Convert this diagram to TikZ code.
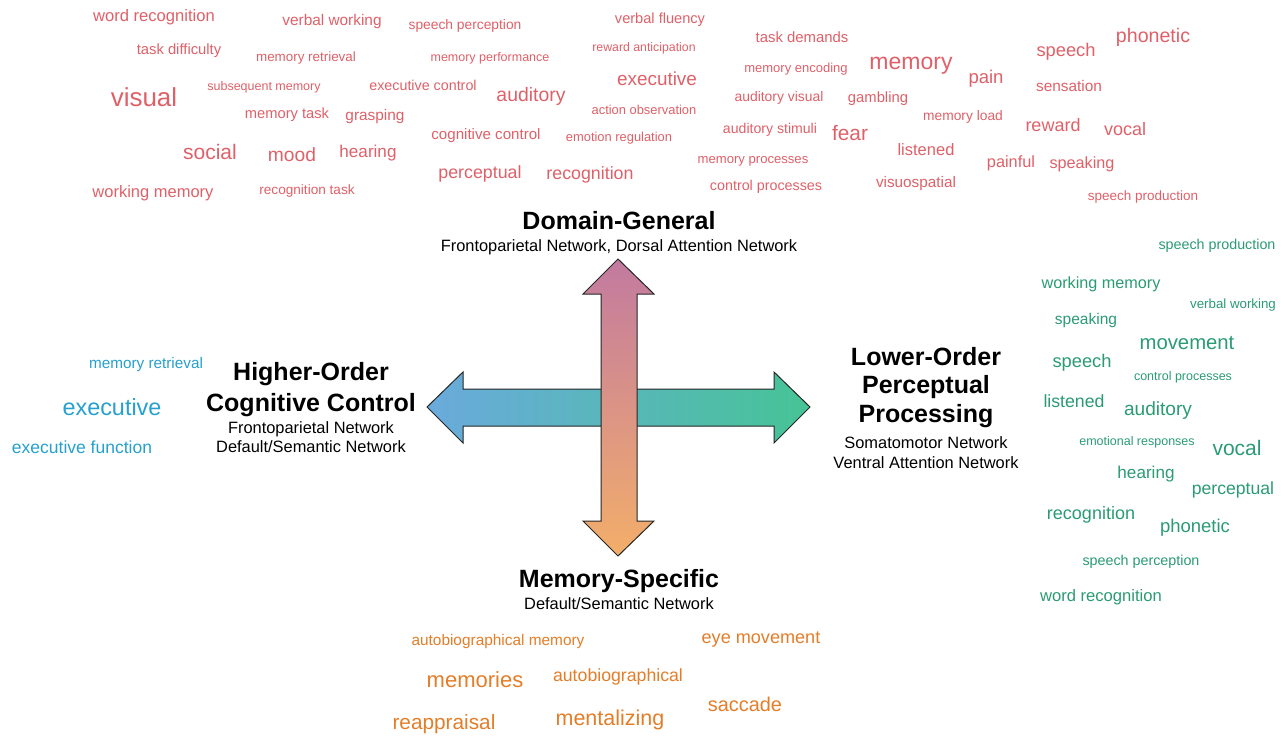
\documentclass[tikz,border=0pt]{standalone}
\usepackage{fontspec}
\setmainfont{Liberation Sans}

\definecolor{generalred}{RGB}{223,96,104}
\definecolor{perceptgreen}{RGB}{42,155,115}
\definecolor{controlblue}{RGB}{38,160,205}
\definecolor{memorange}{RGB}{228,125,40}
\definecolor{arrowblue}{RGB}{106,170,220}
\definecolor{arrowgreen}{RGB}{70,196,150}
\definecolor{arrowmauve}{RGB}{194,122,160}
\definecolor{arroworange}{RGB}{243,174,106}

\begin{document}
\begin{tikzpicture}[x=1pt,y=-1pt,
   word/.style={anchor=base,inner sep=0pt,yshift={-0.32*#1pt},
                font=\fontsize{#1}{#1}\selectfont},
   general/.style={word=#1,text=generalred},
   percept/.style={word=#1,text=perceptgreen},
   control/.style={word=#1,text=controlblue},
   memspec/.style={word=#1,text=memorange},
   heading/.style={word=25,font=\bfseries\fontsize{25}{25}\selectfont},
   network/.style={word=16.4},
   bigarrow/.style={line width=1pt,draw=black!85}]
   \useasboundingbox (0,0) rectangle (1285,736);

   % the two axes
   \shadedraw[bigarrow,left color=arrowblue,right color=arrowgreen]
      (427,407) -- (463,372) -- (463,389) -- (774,389) -- (774,372) -- (810,407)
      -- (774,443) -- (774,426) -- (463,426) -- (463,443) -- cycle;
   \shadedraw[bigarrow,top color=arrowmauve,bottom color=arroworange]
      (618,259) -- (654,294) -- (637,294) -- (637,521) -- (654,521) -- (618,556)
      -- (583,521) -- (601,521) -- (601,294) -- (583,294) -- cycle;

   % axis labels
   \node [heading] (dg) at (619,221.7) {Domain-General};
   \node [network] (dgnet) at (619,246.7) {Frontoparietal Network, Dorsal Attention Network};

   \node [heading] (hoc1) at (311,372) {Higher-Order};
   \node [heading] (hoc2) at (311,403.3) {Cognitive Control};
   \node [network] (hocnet1) at (311,428) {Frontoparietal Network};
   \node [network] (hocnet2) at (311,447) {Default/Semantic Network};

   \node [heading] (lop1) at (926,357) {Lower-Order};
   \node [heading] (lop2) at (926,385.5) {Perceptual};
   \node [heading] (lop3) at (926,414) {Processing};
   \node [network] (lopnet1) at (926,443) {Somatomotor Network};
   \node [network] (lopnet2) at (926,463) {Ventral Attention Network};

   \node [heading] (ms) at (619,579) {Memory-Specific};
   \node [network] (msnet) at (619,604) {Default/Semantic Network};

   % domain-general terms
   \node [general=16.6] (g1) at (154,16) {word recognition};
   \node [general=15.4] (g2) at (332,21) {verbal working};
   \node [general=13.8] (g3) at (465,25) {speech perception};
   \node [general=14.6] (g4) at (660,19) {verbal fluency};
   \node [general=14.8] (g5) at (179,50) {task difficulty};
   \node [general=13.4] (g6) at (306,57) {memory retrieval};
   \node [general=12.5] (g7) at (490,57) {memory performance};
   \node [general=12.3] (g8) at (644,48) {reward anticipation};
   \node [general=14.9] (g9) at (802,38) {task demands};
   \node [general=26] (g10) at (144,98) {visual};
   \node [general=12.5] (g11) at (264,86) {subsequent memory};
   \node [general=14.3] (g12) at (423,86) {executive control};
   \node [general=19.4] (g13) at (531,95) {auditory};
   \node [general=18.9] (g14) at (657,79) {executive};
   \node [general=13] (g15) at (796,68) {memory encoding};
   \node [general=23] (g16) at (911,62) {memory};
   \node [general=18.5] (g17) at (986,78) {pain};
   \node [general=18.3] (g18) at (1066,51) {speech};
   \node [general=19.6] (g19) at (1153,36) {phonetic};
   \node [general=15.4] (g20) at (1069,87) {sensation};
   \node [general=14.7] (g21) at (287,114) {memory task};
   \node [general=15.4] (g22) at (375,116) {grasping};
   \node [general=12.9] (g23) at (644,110) {action observation};
   \node [general=13.9] (g24) at (779,97) {auditory visual};
   \node [general=14.8] (g25) at (878,98) {gambling};
   \node [general=13.8] (g26) at (963,116) {memory load};
   \node [general=18] (g27) at (1053,126) {reward};
   \node [general=18] (g28) at (1125,130) {vocal};
   \node [general=15.1] (g29) at (486,135) {cognitive control};
   \node [general=12.9] (g30) at (619,137) {emotion regulation};
   \node [general=14.1] (g31) at (770,129) {auditory stimuli};
   \node [general=20.9] (g32) at (850,134) {fear};
   \node [general=21] (g33) at (210,153) {social};
   \node [general=19.2] (g34) at (292,155) {mood};
   \node [general=17.1] (g35) at (368,152) {hearing};
   \node [general=13.1] (g36) at (753,159) {memory processes};
   \node [general=16.5] (g37) at (926,150) {listened};
   \node [general=16.3] (g38) at (1011,162) {painful};
   \node [general=16.2] (g39) at (1082,163) {speaking};
   \node [general=17.8] (g40) at (480,173) {perceptual};
   \node [general=17.8] (g41) at (590,174) {recognition};
   \node [general=16.5] (g42) at (153,192) {working memory};
   \node [general=13.6] (g43) at (307,190) {recognition task};
   \node [general=14.3] (g44) at (766,186) {control processes};
   \node [general=15.3] (g45) at (916,183) {visuospatial};
   \node [general=13.5] (g46) at (1143,196) {speech production};

   % perceptual terms
   \node [percept=14.3] (p1) at (1217,245) {speech production};
   \node [percept=16.2] (p2) at (1101,283) {working memory};
   \node [percept=13.3] (p3) at (1233,304) {verbal working};
   \node [percept=15.5] (p4) at (1086,320) {speaking};
   \node [percept=20.3] (p5) at (1187,343) {movement};
   \node [percept=18.3] (p6) at (1082,362) {speech};
   \node [percept=12.5] (p7) at (1183,376) {control processes};
   \node [percept=17.7] (p8) at (1074,402) {listened};
   \node [percept=19.1] (p9) at (1158,409) {auditory};
   \node [percept=12.5] (p10) at (1137,441) {emotional responses};
   \node [percept=21] (p11) at (1237,449) {vocal};
   \node [percept=17.1] (p12) at (1146,473) {hearing};
   \node [percept=17.6] (p13) at (1233,489) {perceptual};
   \node [percept=18] (p14) at (1091,514) {recognition};
   \node [percept=18.5] (p15) at (1195,527) {phonetic};
   \node [percept=14.3] (p16) at (1141,561) {speech perception};
   \node [percept=16.6] (p17) at (1101,596) {word recognition};

   % control terms
   \node [control=15.3] (c1) at (146,364) {memory retrieval};
   \node [control=23.4] (c2) at (112,408) {executive};
   \node [control=17.5] (c3) at (82,448) {executive function};

   % memory terms
   \node [memspec=15.4] (m1) at (498,641) {autobiographical memory};
   \node [memspec=18.1] (m2) at (761,638) {eye movement};
   \node [memspec=22] (m3) at (475,680) {memories};
   \node [memspec=17.7] (m4) at (618,676) {autobiographical};
   \node [memspec=19.9] (m5) at (745,705) {saccade};
   \node [memspec=20.8] (m6) at (444,723) {reappraisal};
   \node [memspec=21.5] (m7) at (610,719) {mentalizing};
\end{tikzpicture}
\end{document}
